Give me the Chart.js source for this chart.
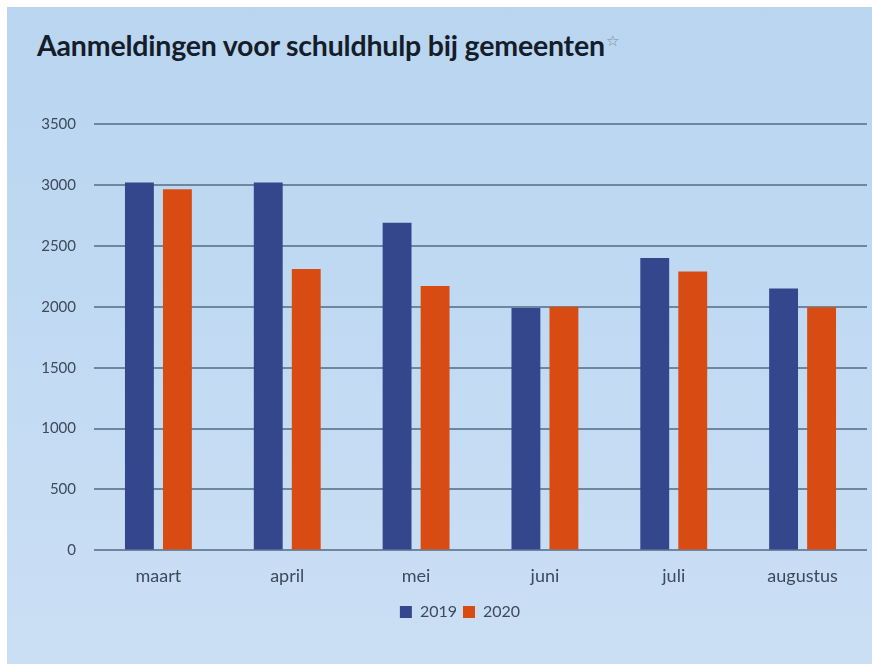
<!DOCTYPE html>
<html>
<head>
    <title>Aanmeldingen voor schuldhulp</title>
    <script src="https://cdn.jsdelivr.net/npm/chart.js"></script>
    <style>
        body { margin: 0; background: #fff; font-family: Lato, sans-serif; }
        .panel { position: absolute; left: 7px; top: 7px; width: 865px; height: 657px;
                 background: linear-gradient(180deg, #b9d5f0 0%, #c3dbf3 60%, #cbdff4 100%); overflow: hidden; }
        h1 { position: absolute; left: 30px; top: 21px; margin: 0; font-size: 28.5px; font-weight: 700; color: #161d2a; letter-spacing: -0.2px; }
        h1 span { font-size: 15px; font-weight: 400; color: #7a879c; vertical-align: top; position: relative; top: 3px; margin-left: 1px; }
        .box { position: absolute; left: 0; top: 0; width: 865px; height: 657px; }
    </style>
</head>
<body>
    <div class="panel">
        <h1>Aanmeldingen voor schuldhulp bij gemeenten<span>☆</span></h1>
        <div class="box"><canvas id="schuldChart"></canvas></div>
    </div>

    <script>
        // gegevens
        const maanden = ['maart', 'april', 'mei', 'juni', 'juli', 'augustus'];
        const jaar2019 = [3020, 3020, 2690, 1990, 2400, 2150];
        const jaar2020 = [2965, 2310, 2170, 2000, 2290, 1995];
        const jaren = ['2019', '2020'];

        // legenda iets naar rechts en omlaag, zoals in het origineel
        const legendaVerschuiven = {
            id: 'legendaVerschuiven',
            afterLayout(chart) {
                chart.legend.left += 23;
                chart.legend.right += 23;
                chart.legend.top += 4;
                chart.legend.bottom += 4;
            }
        };

        const ctx = document.getElementById('schuldChart').getContext('2d');
        new Chart(ctx, {
            type: 'bar',
            data: {
                labels: maanden,
                datasets: [
                    { label: jaren[0], data: jaar2019, backgroundColor: '#35478c' },
                    { label: jaren[1], data: jaar2020, backgroundColor: '#d84c14' }
                ]
            },
            plugins: [legendaVerschuiven],
            options: {
                responsive: true,
                maintainAspectRatio: false,
                animation: false,
                categoryPercentage: 0.59,
                barPercentage: 0.76,
                layout: { padding: { top: 117, right: 5, bottom: 38, left: 0 } },
                plugins: {
                    tooltip: { enabled: false },
                    legend: {
                        position: 'bottom',
                        labels: {
                            boxWidth: 12, boxHeight: 12, padding: 6,
                            color: '#3d4a5c',
                            font: { family: 'Lato', size: 16 }
                        }
                    }
                },
                scales: {
                    x: {
                        grid: { display: false },
                        border: { display: false },
                        ticks: { color: '#3d4a5c', padding: 7, font: { family: 'Lato', size: 18 } }
                    },
                    y: {
                        min: 0, max: 3500,
                        afterFit: s => { s.width = 87; },
                        grid: { color: '#6d87a0', lineWidth: 2, drawTicks: false },
                        border: { display: false },
                        ticks: {
                            stepSize: 500, color: '#3d4a5c', padding: 18,
                            font: { family: 'Lato', size: 15 },
                            callback: v => String(v)
                        }
                    }
                }
            }
        });
    </script>
</body>
</html>
